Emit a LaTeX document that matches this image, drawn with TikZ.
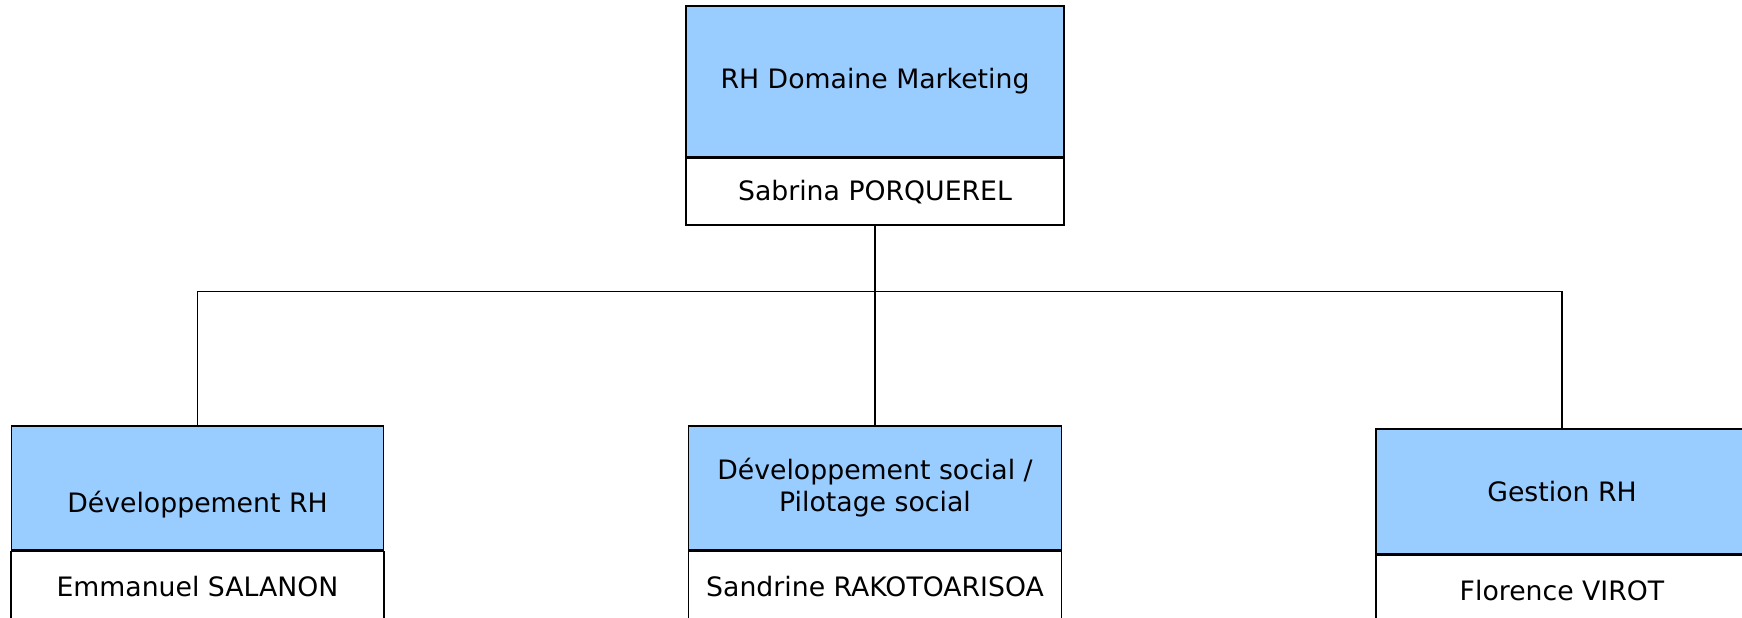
\documentclass[tikz,border=0pt]{standalone}
\usepackage{fontspec}
\setmainfont{DejaVu Sans}
\usetikzlibrary{positioning}
\definecolor{rhblue}{HTML}{99CCFF}

\begin{document}
\begin{tikzpicture}[
    node distance=0pt,
    orgbox/.style={rectangle, draw, line width=0.8pt, minimum width=7.46cm,
                   align=center, inner sep=2pt,
                   font=\fontsize{15.2}{18.2}\selectfont},
    dept/.style={orgbox, fill=rhblue, minimum height=2.48cm},
    holder/.style={orgbox, fill=white, minimum height=1.4cm},
    link/.style={line width=0.8pt},
  ]
  \useasboundingbox (0,0) rectangle (34.84,12.36);
  \clip (0,0) rectangle (34.84,12.36);
  \node[dept, minimum width=7.56cm, minimum height=3.02cm] (head) at (17.5,10.73) {RH Domaine Marketing};
  \node[holder, minimum width=7.56cm, minimum height=1.33cm, below=of head] (headname) {Sabrina PORQUEREL};
  \node[dept, minimum width=7.44cm] (devrh) at (3.95,2.60) {\strut\\Développement RH};
  \node[holder, below=of devrh] (devrhname) {Emmanuel SALANON};
  \node[dept] (devsoc) at (17.5,2.60) {Développement social /\\Pilotage social};
  \node[holder, below=of devsoc] (devsocname) {Sandrine RAKOTOARISOA};
  \node[dept, minimum width=7.44cm, minimum height=2.5cm] (gestion) at (31.24,2.53) {Gestion RH};
  \node[holder, minimum width=7.44cm, below=of gestion] (gestionname) {Florence VIROT};
  \draw[link] (headname.south) -- ++(0,-1.32) coordinate (bus);
  \draw[link] (bus) -| (devrh.north);
  \draw[link] (bus) -- (devsoc.north);
  \draw[link] (bus) -| (gestion.north);
\end{tikzpicture}
\end{document}
